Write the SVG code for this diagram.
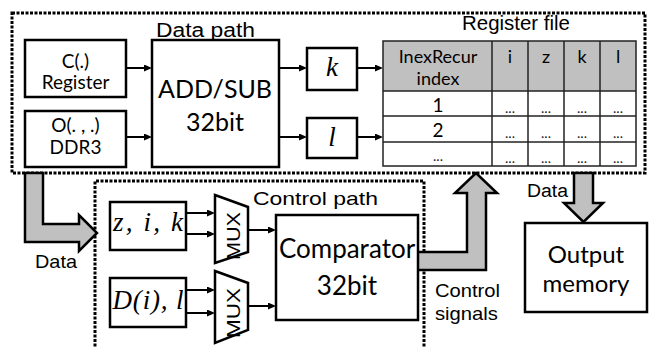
<svg xmlns="http://www.w3.org/2000/svg" width="651" height="347" viewBox="0 0 651 347">
<style>
.frame{fill:none;stroke:#000;stroke-width:3;stroke-dasharray:3 1.5}
.box{fill:#fff;stroke:#000;stroke-width:2.5}
.mux{fill:#fff;stroke:#000;stroke-width:2.5}
.wire{fill:none;stroke:#000;stroke-width:2;marker-end:url(#ah)}
.block{fill:#c0c0c0;stroke:#000;stroke-width:2.5;stroke-linejoin:miter}
.cal{font-family:Lato,"Open Sans","Liberation Sans",sans-serif;fill:#000;text-anchor:middle}
.ar{font-family:"Liberation Sans",Arial,sans-serif;fill:#000}
.math{font-family:"Liberation Serif","Times New Roman",serif;font-style:italic;fill:#000;text-anchor:middle}
.tl{stroke:#222;stroke-width:1.5;fill:none}
.dots{font-family:Lato,"Liberation Sans",sans-serif;font-size:14px;fill:#222;text-anchor:middle}
</style>
<defs>
<marker id="ah" markerUnits="userSpaceOnUse" markerWidth="9" markerHeight="8" refX="2" refY="3.5" orient="auto">
<path d="M0,0 L8,3.5 L0,7 z" fill="#000"/>
</marker>
</defs>
<rect width="651" height="347" fill="#fff"/>

<g id="data-path-frame">
<rect class="frame" x="12" y="13" width="633" height="160"/>
<text class="ar" x="156" y="37" font-size="20" textLength="99" lengthAdjust="spacingAndGlyphs">Data path</text>
<text class="ar" x="462" y="30" font-size="20" textLength="108" lengthAdjust="spacingAndGlyphs">Register file</text>
</g>

<g id="control-path-frame">
<path class="frame" d="M95,360 L95,181 L424,181 L424,360"/>
<text class="ar" x="253" y="205" font-size="19" textLength="125" lengthAdjust="spacingAndGlyphs">Control path</text>
</g>

<g id="connectors">
<path class="block" d="M25,173 L25,242 L79,242 L79,251 L97,233 L79,215 L79,224 L43,224 L43,173 Z"/>
<path class="block" d="M417,252 L467,252 L467,193 L455,193 L476,173 L497,193 L486,193 L486,270 L417,270 Z"/>
<path class="block" d="M574,173 L574,203 L564,203 L583.5,222 L603,203 L593,203 L593,173 Z"/>
<line class="wire" x1="126" y1="68" x2="146" y2="68"/>
<line class="wire" x1="126" y1="137" x2="146" y2="137"/>
<line class="wire" x1="279" y1="68" x2="301" y2="68"/>
<line class="wire" x1="279" y1="137" x2="301" y2="137"/>
<line class="wire" x1="357" y1="68" x2="377" y2="68"/>
<line class="wire" x1="357" y1="137" x2="377" y2="137"/>
<line class="wire" x1="186" y1="213" x2="209" y2="213"/>
<line class="wire" x1="186" y1="234" x2="209" y2="234"/>
<line class="wire" x1="186" y1="290" x2="209" y2="290"/>
<line class="wire" x1="186" y1="313" x2="209" y2="313"/>
<line class="wire" x1="248" y1="230" x2="270" y2="230"/>
<line class="wire" x1="248" y1="306" x2="270" y2="306"/>
<text class="ar" x="35" y="268" font-size="19" textLength="42" lengthAdjust="spacingAndGlyphs">Data</text>
<text class="ar" x="527" y="197" font-size="18" textLength="41" lengthAdjust="spacingAndGlyphs">Data</text>
<text class="ar" x="435" y="297" font-size="19" textLength="65" lengthAdjust="spacingAndGlyphs">Control</text>
<text class="ar" x="435" y="320" font-size="19" textLength="63" lengthAdjust="spacingAndGlyphs">signals</text>
</g>

<g id="c-register">
<rect class="box" x="25" y="40" width="101" height="57"/>
<text class="cal" x="75.5" y="68" font-size="19">C(.)</text>
<text class="cal" x="75.5" y="89" font-size="19">Register</text>
</g>

<g id="o-ddr3">
<rect class="box" x="25" y="111" width="101" height="56"/>
<text class="cal" x="75.5" y="132" font-size="19">O(. , .)</text>
<text class="cal" x="75.5" y="154" font-size="19">DDR3</text>
</g>

<g id="add-sub">
<rect class="box" x="152" y="40" width="127" height="127"/>
<text class="cal" x="215" y="98" font-size="25">ADD/SUB</text>
<text class="cal" x="215" y="131" font-size="25">32bit</text>
</g>

<g id="k-reg">
<rect class="box" x="307" y="48" width="50" height="42"/>
<text class="math" x="332" y="76" font-size="27">k</text>
</g>

<g id="l-reg">
<rect class="box" x="307" y="118" width="50" height="40"/>
<text class="math" x="332" y="146" font-size="27">l</text>
</g>

<g id="register-file">
<rect x="383" y="41" width="253" height="50" fill="#c0c0c0"/>
<rect x="383" y="91" width="253" height="75" fill="#fff"/>
<rect class="tl" x="383" y="41" width="253" height="125"/>
<line class="tl" x1="383" y1="91" x2="636" y2="91"/>
<line class="tl" x1="383" y1="116" x2="636" y2="116"/>
<line class="tl" x1="383" y1="142" x2="636" y2="142"/>
<line class="tl" x1="492" y1="41" x2="492" y2="166"/>
<line class="tl" x1="528" y1="41" x2="528" y2="166"/>
<line class="tl" x1="564" y1="41" x2="564" y2="166"/>
<line class="tl" x1="600" y1="41" x2="600" y2="166"/>
<text class="cal" x="438" y="63" font-size="18" fill="#222">InexRecur</text>
<text class="cal" x="438" y="85" font-size="18" fill="#222">index</text>
<text class="cal" x="510" y="63" font-size="18" fill="#222">i</text>
<text class="cal" x="546" y="63" font-size="18" fill="#222">z</text>
<text class="cal" x="582" y="63" font-size="18" fill="#222">k</text>
<text class="cal" x="618" y="63" font-size="18" fill="#222">l</text>
<text class="cal" x="438" y="112" font-size="19" fill="#222">1</text>
<text class="cal" x="438" y="137" font-size="19" fill="#222">2</text>
<text class="dots" x="438" y="161">...</text>
<text class="dots" x="510" y="113">...</text><text class="dots" x="546" y="113">...</text><text class="dots" x="582" y="113">...</text><text class="dots" x="618" y="113">...</text>
<text class="dots" x="510" y="138">...</text><text class="dots" x="546" y="138">...</text><text class="dots" x="582" y="138">...</text><text class="dots" x="618" y="138">...</text>
<text class="dots" x="510" y="163">...</text><text class="dots" x="546" y="163">...</text><text class="dots" x="582" y="163">...</text><text class="dots" x="618" y="163">...</text>
</g>

<g id="zik">
<rect class="box" x="110" y="202" width="76" height="48"/>
<text class="math" x="148" y="231" font-size="27" textLength="70">z, i, k</text>
</g>

<g id="dil">
<rect class="box" x="110" y="278" width="76" height="49"/>
<text class="math" x="148" y="309" font-size="27" textLength="71">D(i), l</text>
</g>

<g id="mux1">
<path class="mux" d="M215,195 L248,207 L248,252 L215,263 Z"/>
<text class="ar" transform="translate(240,236) rotate(-90)" font-size="19" text-anchor="middle" textLength="48" lengthAdjust="spacingAndGlyphs">MUX</text>
</g>

<g id="mux2">
<path class="mux" d="M215,271 L248,283 L248,330 L215,343 Z"/>
<text class="ar" transform="translate(240,313) rotate(-90)" font-size="19" text-anchor="middle" textLength="50" lengthAdjust="spacingAndGlyphs">MUX</text>
</g>

<g id="comparator">
<rect class="box" x="276" y="215" width="142" height="105"/>
<text class="cal" x="347" y="258" font-size="26">Comparator</text>
<text class="cal" x="347" y="295" font-size="26">32bit</text>
</g>

<g id="output-memory">
<rect class="box" x="525" y="223" width="122" height="89"/>
<text class="cal" x="586" y="263" font-size="24">Output</text>
<text class="cal" x="586" y="292" font-size="24">memory</text>
</g>
</svg>
